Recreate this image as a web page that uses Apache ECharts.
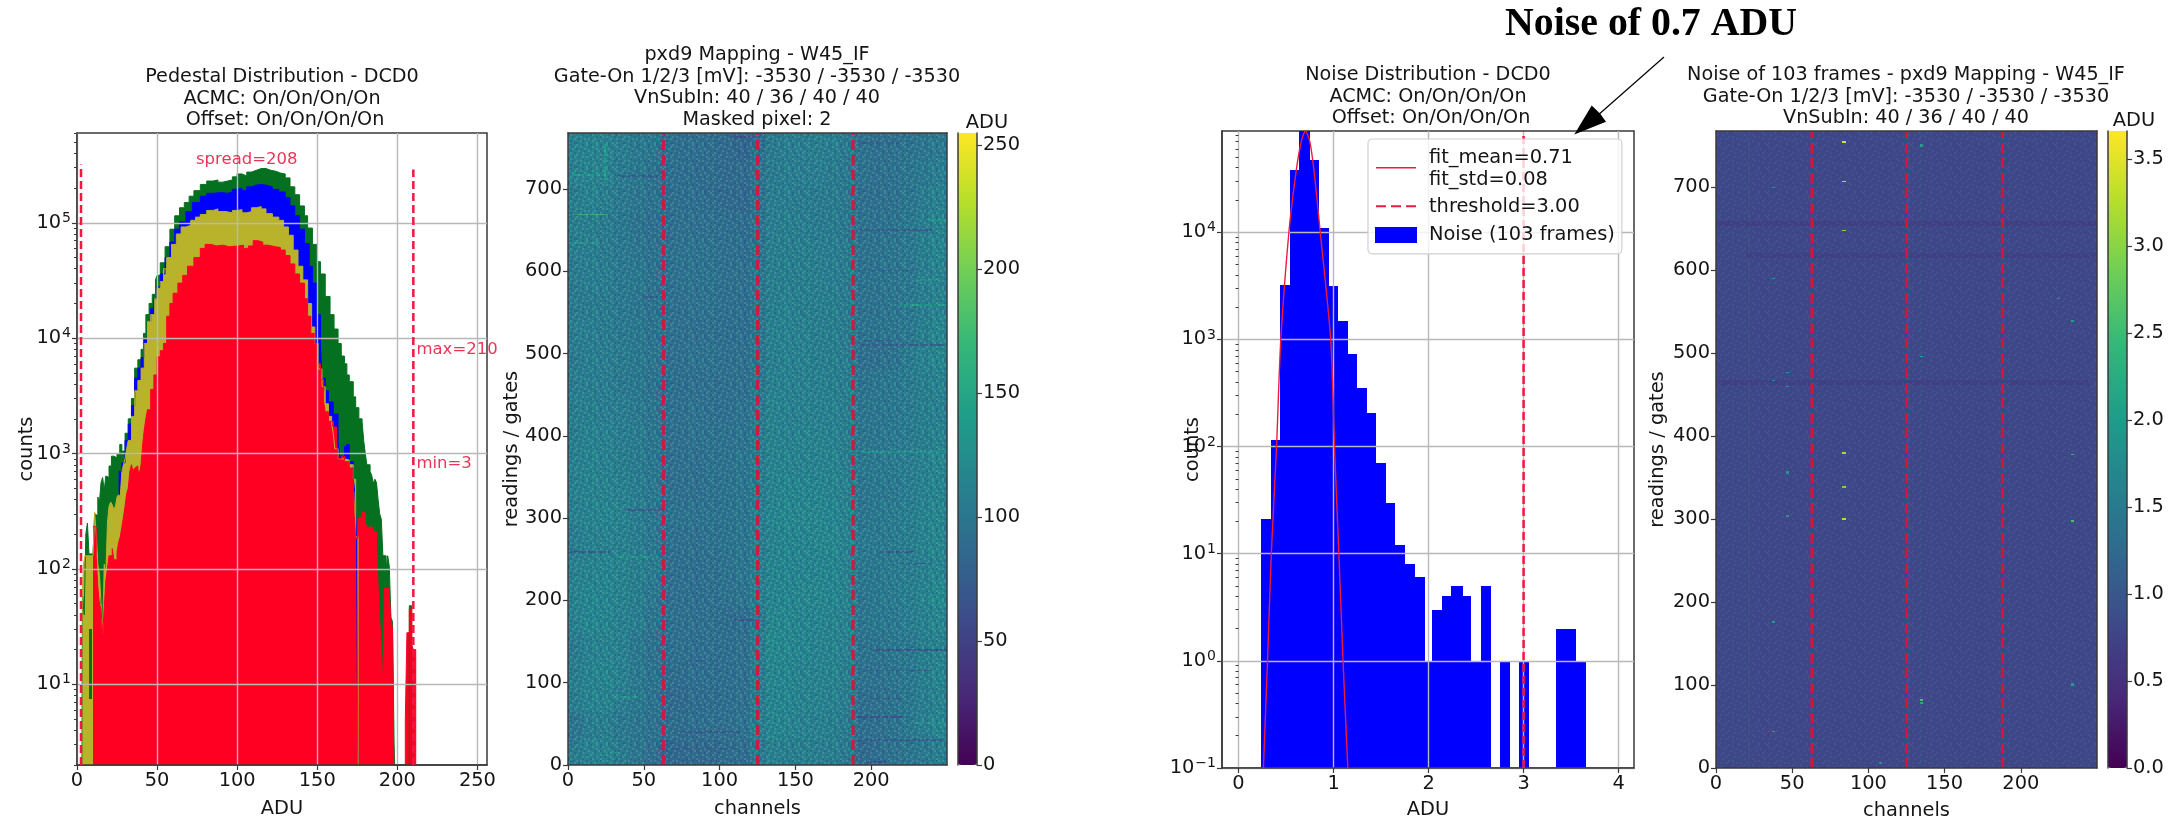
<!DOCTYPE html>
<html><head><meta charset="utf-8">
<style>html,body{margin:0;padding:0;background:#fff}#c{width:2176px;height:818px}</style>
<script src="https://cdn.jsdelivr.net/npm/echarts@6/dist/echarts.min.js"></script>
</head><body><div id="c"></div>
<script>
// ---------- Panel 1: pedestal histograms, [ADU, counts]; 1 means "below the axis" ----------
const pedGreen=[[3,1],[3.5,58],[4.5,40],[5.5,200],[6.5,250],[7.5,135],[8.5,135],[10,135],[11,300],[12,290],[13,420],[14,380],[15,560],[16,620],[17,480],[18,640],[19,620],[20,780],[21.5,950],[23,920],[25,1000],[26.7,1200],[28,1050],[30,1500],[32,2000],[34,3000],[36,5500],[38,6500],[40,8000],[41.5,11000],[43,16000],[45,20000],[47,24000],[49,32000],[50,35000],[52,45000],[55,62000],[58,88000],[61,115000],[64,135000],[67,150000],[70,170000],[73,190000],[77,215000],[81,230000],[85,235000],[88,225000],[91,230000],[94,235000],[97,250000],[100,265000],[103,255000],[106,275000],[109,285000],[112,295000],[115,295000],[118,285000],[121,280000],[124,270000],[127,265000],[130,245000],[133,205000],[136,175000],[139,140000],[142,115000],[144,90000],[147,65000],[150,46000],[152,36000],[155,23000],[158,16000],[160.5,12000],[163,9000],[165,7000],[167,6000],[168.5,4800],[170,4200],[172.5,3100],[174,2500],[176,2000],[178,1900],[179,1300],[180,1000],[181,800],[182,800],[183,700],[184,650],[185,550],[186,600],[187,560],[188,400],[189,300],[190,270],[191,130],[192,130],[193,100],[194,130],[195,105],[196,38],[197,35],[198,3],[199,1],[207.5,48],[209,1]];
const pedBlue=[[26,700],[28,830],[30,1300],[32,1800],[34,2600],[36,4500],[38,5500],[40,6800],[42,10000],[44,14000],[46,18000],[48,22000],[50,28000],[52,36000],[55,50000],[58,68000],[61,88000],[64,102000],[68,125000],[72,150000],[77,170000],[81,180000],[85,183000],[90,180000],[94,185000],[97,195000],[100,200000],[103,190000],[106,205000],[109,212000],[112,215000],[115,212000],[118,205000],[122,195000],[126,185000],[130,165000],[133,140000],[136,115000],[139,88000],[142,66000],[145,42000],[147,30000],[150,16000],[152,8500],[153,4500],[155,3500],[157,2800],[160,2200],[163,1250],[164,950],[167,1150],[168.5,1200],[170,850],[172.5,620],[173.5,450],[174.5,220],[175.5,1]];
const pedOlive=[[3,1],[3.3,58],[4,110],[5,130],[10,130],[11,310],[12,200],[13,110],[14,90],[15,50],[16,28],[17,110],[18,90],[19,250],[20,350],[21,380],[22,360],[23,330],[24,350],[25,420],[26,440],[27,420],[28,700],[29,800],[30,900],[31,1100],[32,1300],[34,2100],[36,3500],[38,4300],[40,5500],[42,9000],[44,14000],[46,16000],[48.5,22000],[50,27000],[52,31000],[54,40000],[56,50000],[59,65000],[62,80000],[65,92000],[68,95000],[71,105000],[74,112000],[77,118000],[81,128000],[85,132000],[88,125000],[93,122000],[97,128000],[100,130000],[103,122000],[106,125000],[109,135000],[112,138000],[115,132000],[118,120000],[122,112000],[126,105000],[129,92000],[132,78000],[135,58000],[138,42000],[141,32000],[144,20000],[146.5,12500],[148.5,9000],[150.5,5400],[153,3800],[155,2700],[157,2100],[159,1800],[160,1500],[161,1100],[163,900],[167,880],[170,800],[172.5,600],[174,190],[175.5,1]];
const pedRed=[[10,235],[11,230],[12,130],[13,70],[14,50],[15,45],[16,28],[17,45],[18,80],[19,100],[20,130],[22,150],[23,120],[25,140],[26,170],[27,190],[28,230],[29,280],[30,350],[31,450],[32,500],[33,700],[34,800],[35,700],[36,750],[37,780],[38,720],[39,680],[40,800],[41,1200],[42,1600],[43,2000],[44,2400],[46,3600],[48,4800],[50,6900],[52,7800],[54,9000],[56,15500],[58,20000],[60,24500],[63,30000],[66,35000],[69,42000],[73,50000],[77,60000],[80,65000],[84,63000],[87,64000],[91,62000],[95,63000],[101,64000],[104,60000],[107,63000],[110,70000],[113,68000],[116,64000],[119,62000],[124,61000],[127,58000],[130,52000],[133,44000],[136,36000],[139,30000],[142,22000],[144,15500],[146,11000],[148.5,9000],[150,6000],[152,4400],[154,2800],[155,2300],[157,1900],[160,1700],[162,1300],[163,900],[165,950],[167,850],[170,750],[172.5,620],[173,300],[174,190],[175,180],[176,280],[178,310],[180,250],[181,230],[183,230],[185,210],[187,160],[188,70],[189,36],[190,22],[191,9],[192,68],[195,60],[196,36],[197,30],[198,1],[205,5],[206,28],[207.5,45],[209,22],[210,20],[211.5,1]];
const pedGreenStrokes=[[7.5,9.5,7.5,30],[14.5,17,50,160]]; // [x0,x1,countLow,countHigh]
const pedMinLine=[[2.5,2],[2.5,320000]];
const pedMaxLine=[[210,2],[210,290000]];
const pedNotes=[{name:'spread=208',value:[106,350000]},{name:'max=210',value:[211,7900]},{name:'min=3',value:[211,810]}];
const pedMajor=[10,100,1000,10000,100000];
const pedMinor=[2,3,4,5,6,7,8,9,20,30,40,50,60,70,80,90,200,300,400,500,600,700,800,900,2000,3000,4000,5000,6000,7000,8000,9000,20000,30000,40000,50000,60000,70000,80000,90000,200000,300000,400000,500000,600000];

// ---------- Panel 2: pedestal map; 25 columns (10 channels) x 24 rows (32 gates), top row first ----------
const pedMapRows=[
[112,114,112,108,104,102,94,92,92,90,88,84,92,106,108,108,110,108,104,96,94,96,98,100,104],
[112,114,112,106,102,98,92,92,90,90,88,88,96,106,108,108,108,106,104,96,94,96,100,102,108],
[110,112,110,104,100,96,90,92,92,90,88,86,96,108,108,106,106,106,102,94,94,96,100,106,112],
[110,110,106,102,98,94,92,94,94,94,92,90,98,108,110,108,106,106,104,96,96,98,102,108,114],
[108,108,106,104,100,96,94,96,96,96,94,92,98,110,110,110,108,108,106,96,98,100,104,110,116],
[106,108,108,104,102,98,94,96,96,96,94,94,100,110,110,110,110,108,106,98,98,100,104,108,114],
[106,106,106,104,100,96,94,94,96,96,94,92,100,110,112,110,110,110,106,96,96,100,104,108,114],
[108,108,106,104,102,98,96,94,94,94,92,92,100,112,112,112,110,110,106,98,98,100,104,110,118],
[106,108,108,106,102,100,94,94,96,96,94,94,100,110,112,112,110,110,108,94,94,98,106,112,118],
[108,108,108,104,102,98,92,92,94,94,94,94,102,112,112,112,112,110,108,98,100,102,106,110,114],
[110,110,108,108,104,100,94,94,96,94,94,96,104,114,112,112,112,112,110,100,100,102,106,110,112],
[110,112,112,108,106,100,94,94,96,96,96,98,106,114,112,114,114,112,110,100,100,104,106,110,114],
[112,114,112,110,106,102,94,94,94,96,96,100,106,114,114,114,114,114,110,102,104,106,108,112,118],
[112,114,114,112,108,104,94,94,94,96,98,100,106,114,116,116,116,114,112,100,102,104,108,112,116],
[112,114,116,114,108,104,96,96,96,96,98,100,108,116,118,118,118,116,114,100,102,106,110,114,118],
[108,112,114,112,108,104,94,94,94,96,98,100,108,114,116,116,118,118,114,104,104,106,110,114,118],
[112,114,116,114,110,106,94,92,92,94,96,100,108,116,116,116,116,116,112,102,102,106,108,112,116],
[114,116,116,114,110,104,94,94,92,94,96,98,108,116,116,118,118,116,114,100,102,106,110,114,120],
[112,116,116,112,108,100,94,94,94,94,90,92,104,118,118,116,116,114,112,100,102,104,108,112,118],
[106,112,114,112,102,96,92,94,92,94,92,94,106,120,118,116,114,114,112,98,98,102,104,110,114],
[110,114,116,112,104,98,90,90,92,92,92,94,106,118,116,114,114,114,110,96,96,100,104,110,116],
[110,114,114,108,102,98,88,88,90,90,92,94,106,116,116,114,114,112,108,92,94,98,102,108,114],
[100,108,110,104,100,96,90,90,92,94,94,96,108,116,114,112,112,110,106,92,94,98,102,108,116],
[106,112,112,106,100,94,84,86,88,88,90,90,104,112,110,110,108,108,104,88,92,96,100,104,110]];
const pedMapStreaks=[ // [x0,x1,y0,y1,ADU] thin bright or dark streaks seen on the map
[3,25,668,670,160],[24,25,707,755,140],[2,23,716,718,135],[2,21,633,635,128],[219,250,558,560,132],[230,245,588,590,132],[236,250,661,663,132],
[32,63,715,717,78],[109,124,762,764,68],[192,230,600,602,78],[195,214,515,517,72],[192,248,509,511,80],[192,219,755,757,80],[87,126,697,699,80],[192,241,649,651,78],[50,65,568,570,78],
[193,250,379,381,128],[38,63,309,311,78],[0,28,258,260,80],[206,228,258,260,78],[219,241,244,246,80],[109,124,175,177,72],[201,250,139,141,70],[78,98,126,128,78],[197,241,114,116,78],[197,221,80,82,72],[190,221,57,59,68],[74,115,39,41,74],[190,247,29,31,78],[71,109,19,21,74],[197,210,3,5,62],
[32,54,252,254,130],[30,47,82,84,130],[21,34,14,16,128],[228,250,50,52,128],[232,250,199,201,128]];

// ---------- Panel 3: noise histogram ----------
const noiseBinEdges=[0.24,0.34,0.44,0.54,0.64,0.75,0.85,0.95,1.05,1.15,1.25,1.35,1.45,1.55,1.65,1.75,1.86,1.96,2.04,2.14,2.24,2.36,2.45,2.55,2.66,2.75,2.86,2.95,3.06,3.34,3.45,3.55,3.66];
const noiseCounts=[21,114,3200,38000,88000,47000,11000,3150,1480,730,355,205,70,30,12,8,6,1,3,4,5,4,1,5,0,1,0,1,0,2,2,1];
const noiseFit=[[0.262,0.1],[0.305,1],[0.345,10],[0.40,100],[0.445,1000],[0.53,10000],[0.606,37000],[0.66,70000],[0.704,88000],[0.75,70000],[0.795,37000],[0.86,10000],[0.97,1000],[1.01,100],[1.056,10],[1.10,1],[1.15,0.1]];
const noiseThreshold=[[3,0.1],[3,88000]];
const noiseMajor=[0.1,1,10,100,1000,10000];
const noiseMinor=[0.2,0.3,0.4,0.5,0.6,0.7,0.8,0.9,2,3,4,5,6,7,8,9,20,30,40,50,60,70,80,90,200,300,400,500,600,700,800,900,2000,3000,4000,5000,6000,7000,8000,9000,20000,30000,40000,50000,60000,70000,80000];

// ---------- Panel 4: noise map, [x0,x1,y0,y1,ADU] ----------
const noiseMapBase=[[0,250,0,768,0.8]];
const noiseMapColumns=[[5,6,0,768,0.88],[11,12,0,768,0.86],[17,18,0,768,0.88],[21,22,0,768,0.86],[126,127,0,768,0.86],[134,135,0,768,0.85],[141,142,0,768,0.85]];
const noiseMapRows=[[0,250,654,660,0.7],[20,250,615,621,0.72],[0,245,462,468,0.7]];
const noiseMapHot=[[83,85,754,756,3.4],[83,85,706,708,3.3],[83,85,647,649,3.0],[134,136,749,752,2.0],[233,235,538,540,2.0],[134,136,495,497,2.2],[37,39,466,468,1.9],[46,48,476,478,1.9],[46,48,459,461,2.0],[37,39,699,701,1.8],[37,39,589,591,2.0],[224,226,565,567,1.8],[83,85,379,381,3.2],[83,85,338,340,3.0],[83,85,299,301,3.3],[233,235,377,379,2.4],[233,235,297,299,2.6],[46,48,355,358,2.0],[46,48,303,305,1.9],[37,39,175,177,2.0],[37,39,43,45,2.2],[134,136,81,83,2.6],[134,136,77,79,2.2],[233,235,99,102,2.0],[107,109,5,7,1.8]];

const channelDividers=[63,125,188];
const viridis=['#440154','#482878','#3e4989','#31688e','#26828e','#1f9e89','#35b779','#6ece58','#b5de2b','#fde725'];

// ---------- tick lists and texts ----------
const mapChannelTicks=[0,50,100,150,200];
const mapGateTicks=[0,100,200,300,400,500,600,700];
const pedBarTicks=[0,50,100,150,200,250];
const noiseBarTicks=[0,0.5,1,1.5,2,2.5,3,3.5];
const pedTicks=[0,50,100,150,200,250];
const noiseTicks=[0,1,2,3,4];
const titles=[
 {x:282,y:66,t:'Pedestal Distribution - DCD0\nACMC: On/On/On/On\n Offset: On/On/On/On'},
 {x:757,y:44,t:'pxd9 Mapping - W45_IF\nGate-On 1/2/3 [mV]: -3530 / -3530 / -3530\nVnSubIn: 40 / 36 / 40 / 40\nMasked pixel: 2'},
 {x:1428,y:64,t:'Noise Distribution - DCD0\nACMC: On/On/On/On\n Offset: On/On/On/On'},
 {x:1906,y:64,t:'Noise of 103 frames - pxd9 Mapping - W45_IF\nGate-On 1/2/3 [mV]: -3530 / -3530 / -3530\nVnSubIn: 40 / 36 / 40 / 40'}];

// ---------- helpers ----------
const FS=19.4, FONT='"DejaVu Sans"', INK='#151515', SPINE='#3a3a3a', GRIDC='#b8b8b8';
const logLabel=v=>'{b|10}{s|'+String(Math.round(Math.log10(v))).replace('-','\u2212')+'}';
const logRich={b:{fontFamily:FONT,fontSize:FS,color:INK},s:{fontFamily:FONT,fontSize:14,color:INK,padding:[0,0,9,1]}};
const lab={fontFamily:FONT,fontSize:FS,color:INK,margin:6};
const nameStyle={fontFamily:FONT,fontSize:FS,color:INK};
const tick=(len,w)=>({show:true,length:len,lineStyle:{color:SPINE,width:w||1.2}});
const line={show:true,onZero:false,lineStyle:{color:SPINE,width:1.5}};
const off={show:false};
function edgeAxis(gi,pos){return {type:'value',gridIndex:gi,position:pos,min:0,max:1,axisLine:line,axisTick:off,axisLabel:off,splitLine:off,z:5};}

// Hand-typed grain tile: a style texture for the maps ('+' lighter, '-' darker, '.' none).
const grainTile=[
"+..-.+.-..+.-..+-..+.-..",
"..+...-.+...-+...-..+.-+",
"-.-.+..-..+.....+.-...+.",
".+..-.+..-.+-.+...+-.-..",
"..-+....+-...-..-+...+.-",
"+....-.+....+..+...-+...",
".-.+.+...-+.-.-..+....-+",
"...-...-+...+...-.+.-+..",
"+.+..-....-.-+.+...-..-.",
".-..+.+-.+.....-.+..+..+",
"..+-....+..-+.-...-..-..",
"-....+-...+....+-.+.+..-"];
function grainCanvas(aLight,aDark){
  const cw=2,ch=2,c=document.createElement('canvas');
  c.width=grainTile[0].length*cw;c.height=grainTile.length*ch;
  const g=c.getContext('2d');
  grainTile.forEach((row,r)=>row.split('').forEach((k,i)=>{
    if(k==='.')return;
    g.fillStyle=k==='+'?'rgba(150,235,190,'+aLight+')':'rgba(45,35,125,'+aDark+')';
    g.fillRect(i*cw,r*ch,cw,ch);
  }));
  return c;
}

const cellRender=(params,api)=>{
  const a=api.coord([api.value(0),api.value(3)]), b=api.coord([api.value(1),api.value(2)]);
  const x=Math.round(a[0]),y=Math.round(a[1]);
  return {type:'rect',shape:{x:x,y:y,width:Math.max(1,Math.round(b[0])-x),height:Math.max(1,Math.round(b[1])-y)},style:{fill:api.visual('color')}};
};
const barRender=(color)=>(params,api)=>{
  const a=api.coord([api.value(0),api.value(3)]), b=api.coord([api.value(1),api.value(2)]);
  const x=Math.round(a[0]),y=Math.round(a[1]);
  return {type:'rect',shape:{x:x,y:y,width:Math.round(b[0])-x,height:Math.round(b[1])-y},style:{fill:color}};
};
const hist=(name,data,color,z)=>({name,type:'line',xAxisIndex:0,yAxisIndex:0,data,step:'end',symbol:'none',z,
  lineStyle:{color,width:1},areaStyle:{color,opacity:1,origin:'start'},itemStyle:{color},silent:true,animation:false});
const vline=(xi,yi,data,color,w,dash,name)=>({name,type:'line',xAxisIndex:xi,yAxisIndex:yi,data,symbol:'none',z:4,silent:true,itemStyle:{color},
  lineStyle:{color,width:w,type:dash}});

const pedCells=[];
pedMapRows.forEach((row,r)=>row.forEach((v,c)=>pedCells.push([c*10,c*10+10,768-(r+1)*32,768-r*32,v])));
const pedAll=pedCells.concat(pedMapStreaks);
const noiseAll=noiseMapBase.concat(noiseMapColumns,noiseMapRows,noiseMapHot);
const noiseBars=[];
noiseCounts.forEach((n,i)=>{if(n>0)noiseBars.push([noiseBinEdges[i],noiseBinEdges[i+1],0.1,n]);});

const P={p1:{l:77,r:487,t:133,b:765},p2:{l:568,r:947,t:133,b:765},c2:{l:958,r:977,t:133,b:765},
         p3:{l:1222,r:1634,t:131,b:768},p4:{l:1716,r:2097,t:131,b:768},c4:{l:2108,r:2127,t:131,b:768}};
const mkGrid=(p,border)=>({left:p.l,top:p.t,width:p.r-p.l,height:p.b-p.t,show:!!border,borderColor:SPINE,borderWidth:border?1.5:0,containLabel:false,outerBoundsMode:'none'});
const grid=[mkGrid(P.p1,1),mkGrid(P.p2,0),mkGrid(P.c2,0),mkGrid(P.p3,1),mkGrid(P.p4,0),mkGrid(P.c4,0)];

const splitL={show:true,lineStyle:{color:GRIDC,width:1.4}};
const named=(name,gap,extra)=>Object.assign({name,nameLocation:'middle',nameGap:gap,nameMoveOverlap:false,nameTextStyle:nameStyle},extra||{});
const xAxis=[
 Object.assign({type:'value',gridIndex:0,min:0,max:256,axisTick:Object.assign(tick(5),{customValues:pedTicks}),axisLabel:Object.assign({},lab,{customValues:pedTicks}),axisLine:line,splitLine:splitL,z:3},named('ADU',34)),
 Object.assign({type:'value',gridIndex:1,min:0,max:250,axisTick:Object.assign(tick(5),{customValues:mapChannelTicks}),axisLabel:Object.assign({},lab,{customValues:mapChannelTicks}),axisLine:line,splitLine:off,z:5},named('channels',34)),
 edgeAxis(1,'top'),
 Object.assign(edgeAxis(2,'bottom'),{axisLine:off}),
 Object.assign({type:'value',gridIndex:3,min:-0.174,max:4.162,axisTick:Object.assign(tick(5),{customValues:noiseTicks}),axisLabel:Object.assign({},lab,{customValues:noiseTicks}),axisLine:line,splitLine:splitL,z:3},named('ADU',32)),
 Object.assign({type:'value',gridIndex:4,min:0,max:250,axisTick:Object.assign(tick(5),{customValues:mapChannelTicks}),axisLabel:Object.assign({},lab,{customValues:mapChannelTicks}),axisLine:line,splitLine:off,z:5},named('channels',33)),
 edgeAxis(4,'top'),
 Object.assign(edgeAxis(5,'bottom'),{axisLine:off})
];
const yAxis=[
 Object.assign({type:'log',gridIndex:0,logBase:10,min:2,max:600000,axisTick:Object.assign(tick(5),{customValues:pedMajor}),axisLabel:Object.assign({},lab,{customValues:pedMajor,formatter:logLabel,rich:logRich}),axisLine:line,splitLine:splitL,z:3},named('counts',41)),
 {type:'log',gridIndex:0,logBase:10,min:2,max:600000,position:'left',axisTick:Object.assign(tick(3,1),{customValues:pedMinor}),axisLabel:off,axisLine:off,splitLine:off,z:3},
 Object.assign({type:'value',gridIndex:1,min:0,max:768,axisTick:Object.assign(tick(5),{customValues:mapGateTicks}),axisLabel:Object.assign({},lab,{customValues:mapGateTicks}),axisLine:line,splitLine:off,z:5},named('readings / gates',47)),
 edgeAxis(1,'right'),
 {type:'value',gridIndex:2,position:'right',min:0,max:255,axisTick:Object.assign(tick(5),{customValues:pedBarTicks}),axisLabel:Object.assign({},lab,{customValues:pedBarTicks}),axisLine:line,splitLine:off,name:'ADU',nameLocation:'end',nameGap:1,nameTextStyle:Object.assign({},nameStyle,{align:'center',padding:[0,0,0,20],verticalAlign:'bottom'}),z:5},
 edgeAxis(2,'left'),
 Object.assign({type:'log',gridIndex:3,logBase:10,min:0.1,max:88000,axisTick:Object.assign(tick(5),{customValues:noiseMajor}),axisLabel:Object.assign({},lab,{customValues:noiseMajor,formatter:logLabel,rich:logRich}),axisLine:line,splitLine:splitL,z:3},named('counts',20)),
 {type:'log',gridIndex:3,logBase:10,min:0.1,max:88000,position:'left',axisTick:Object.assign(tick(3,1),{customValues:noiseMinor}),axisLabel:off,axisLine:off,splitLine:off,z:3},
 Object.assign({type:'value',gridIndex:4,min:0,max:768,axisTick:Object.assign(tick(5),{customValues:mapGateTicks}),axisLabel:Object.assign({},lab,{customValues:mapGateTicks}),axisLine:line,splitLine:off,z:5},named('readings / gates',49)),
 edgeAxis(4,'right'),
 {type:'value',gridIndex:5,position:'right',min:0,max:3.66,axisTick:Object.assign(tick(5),{customValues:noiseBarTicks}),axisLabel:Object.assign({},lab,{customValues:noiseBarTicks,formatter:v=>v.toFixed(1)}),axisLine:line,splitLine:off,name:'ADU',nameLocation:'end',nameGap:1,nameTextStyle:Object.assign({},nameStyle,{align:'center',padding:[0,0,0,14],verticalAlign:'bottom'}),z:5},
 edgeAxis(5,'left')
];

const RED='#f01840', DIV='#c91c3e';
const series=[
 hist('green',pedGreen,'#05701f',2),
 hist('blue',pedBlue,'#0000ff',2),
 hist('olive',pedOlive,'#b8b32a',2),
 {type:'custom',xAxisIndex:0,yAxisIndex:0,silent:true,z:2,encode:{x:[0,1],y:[2,3]},renderItem:barRender('#05701f'),data:pedGreenStrokes},
 hist('red',pedRed,'#ff0022',2),
 vline(0,0,pedMinLine,RED,2.5,[8,4]),
 vline(0,0,pedMaxLine,RED,2.5,[8,4]),
 {type:'scatter',xAxisIndex:0,yAxisIndex:0,silent:true,z:4,symbolSize:1,itemStyle:{color:'rgba(0,0,0,0)'},data:[pedNotes[0]],
  label:{show:true,position:'inside',formatter:'{b}',color:'#e8002c',fontFamily:FONT,fontSize:16.5}},
 {type:'scatter',xAxisIndex:0,yAxisIndex:0,silent:true,z:4,symbolSize:1,itemStyle:{color:'rgba(0,0,0,0)'},data:pedNotes.slice(1),
  label:{show:true,position:'right',distance:1,formatter:'{b}',color:'#e8002c',fontFamily:FONT,fontSize:16.5}},
 {id:'pedMap',type:'custom',xAxisIndex:1,yAxisIndex:2,silent:true,z:2,encode:{x:[0,1],y:[2,3]},renderItem:cellRender,data:pedAll},
 ...channelDividers.map(x=>vline(1,2,[[x,0],[x,768]],DIV,3.2,[10,5])),
 {id:'noiseMap',type:'custom',xAxisIndex:5,yAxisIndex:8,silent:true,z:2,encode:{x:[0,1],y:[2,3]},renderItem:cellRender,data:noiseAll},
 ...channelDividers.map(x=>vline(5,8,[[x,0],[x,768]],'#d3143c',3.2,[10,5])),
 {name:'Noise (103 frames)',type:'custom',xAxisIndex:4,yAxisIndex:6,silent:true,z:2,encode:{x:[0,1],y:[2,3]},itemStyle:{color:'#0000ff'},renderItem:barRender('#0000ff'),data:noiseBars},
 {name:'fit_mean=0.71\nfit_std=0.08',type:'line',xAxisIndex:4,yAxisIndex:6,data:noiseFit,symbol:'none',smooth:0.25,silent:true,z:4,itemStyle:{color:'#ee1b3c'},lineStyle:{color:'#ee1b3c',width:1.4}},
 vline(4,6,noiseThreshold,'#f01840',2.5,[8,4],'threshold=3.00')
];

const graphic=titles.map(o=>({type:'text',x:o.x,y:o.y,z:10,silent:true,style:{text:o.t,align:'center',verticalAlign:'top',fontFamily:FONT,fontSize:19.2,lineHeight:21.7,fill:INK}}));
graphic.push({type:'text',x:1651,y:25,z:10,silent:true,style:{text:'Noise of 0.7 ADU',align:'center',verticalAlign:'middle',fontFamily:'"Liberation Serif"',fontWeight:'bold',fontSize:39.8,fill:'#000'}});
graphic.push({type:'line',z:10,silent:true,shape:{x1:1664,y1:57,x2:1597,y2:116},style:{stroke:'#000',lineWidth:1.2}});
graphic.push({type:'polygon',z:10,silent:true,shape:{points:[[1574.3,134.5],[1591.7,105.5],[1600,113.5],[1606,121.7]]},style:{fill:'#000'}});
[[P.p2,0.17,0.20],[P.p4,0.05,0.06]].forEach(([p,al,ad])=>graphic.push({type:'rect',z:3,silent:true,
  shape:{x:p.l,y:p.t,width:p.r-p.l,height:p.b-p.t},style:{fill:{image:grainCanvas(al,ad),repeat:'repeat'}}}));

const LINE_ICON='path://M0,-7L0,-7ZM0,-0.8H40V0.8H0ZM0,9L0,9Z';
const DASH_ICON='path://M0,-7L0,-7ZM0,-1H10V1H0ZM15,-1H25V1H15ZM30,-1H40V1H30ZM0,9L0,9Z';
const option={
 animation:false,backgroundColor:'#fff',textStyle:{fontFamily:FONT},
 grid,xAxis,yAxis,series,graphic,
 legend:{left:1368,top:139,orient:'vertical',z:6,itemWidth:42,itemHeight:16,itemGap:6,padding:[8,7,8,7],
  backgroundColor:'rgba(255,255,255,0.8)',borderColor:'#d0d0d0',borderWidth:1.2,borderRadius:4,selectedMode:false,
  textStyle:{fontFamily:FONT,fontSize:FS,color:INK,lineHeight:21.7,padding:[0,0,0,7]},
  data:[{name:'fit_mean=0.71\nfit_std=0.08',icon:LINE_ICON},{name:'threshold=3.00',icon:DASH_ICON},{name:'Noise (103 frames)',icon:'rect'}]},
 visualMap:[
  {type:'continuous',show:true,seriesId:'pedMap',dimension:4,min:0,max:255,left:P.c2.l,top:P.c2.t,itemWidth:P.c2.r-P.c2.l,itemHeight:P.c2.b-P.c2.t,padding:0,calculable:false,hoverLink:false,showLabel:false,text:null,inRange:{color:viridis}},
  {type:'continuous',show:true,seriesId:'noiseMap',dimension:4,min:0,max:3.66,left:P.c4.l,top:P.c4.t,itemWidth:P.c4.r-P.c4.l,itemHeight:P.c4.b-P.c4.t,padding:0,calculable:false,hoverLink:false,showLabel:false,text:null,inRange:{color:viridis}}
 ]
};
const chart=echarts.init(document.getElementById('c'),null,{renderer:'canvas'});
chart.setOption(option);
</script></body></html>
